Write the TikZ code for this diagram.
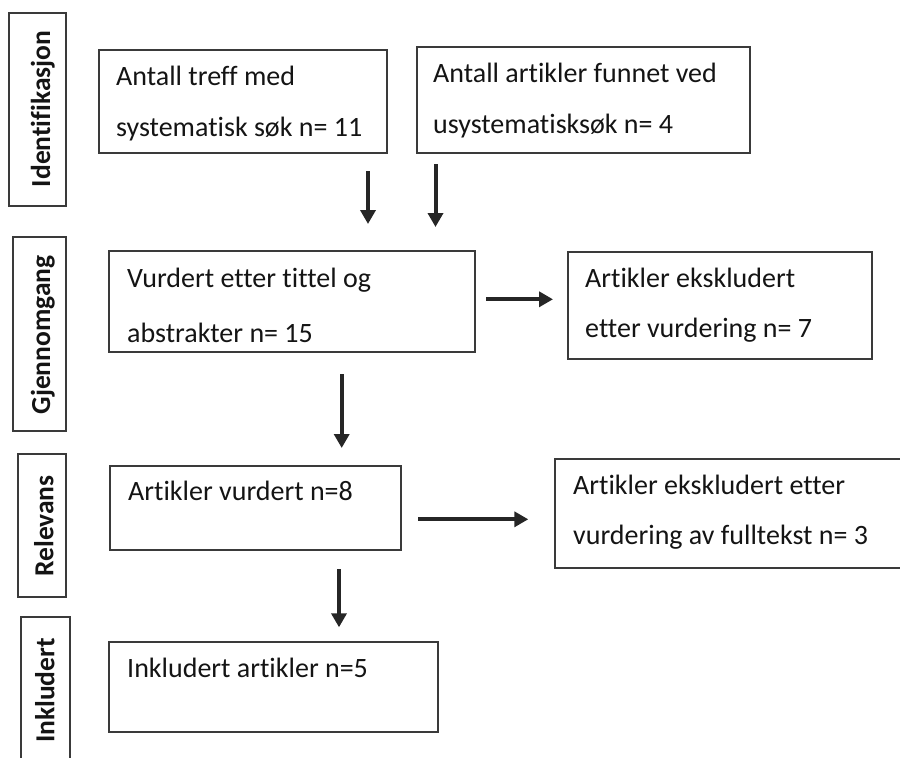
\documentclass[tikz,border=0pt]{standalone}
\usepackage{fontspec}
\setmainfont{Carlito}[Ligatures={NoCommon,NoContextual}]
\usetikzlibrary{arrows.meta}
\definecolor{boxc}{HTML}{3A3A3A}
\definecolor{txtc}{HTML}{141414}
\definecolor{arrc}{HTML}{262626}
\begin{document}
\begin{tikzpicture}[x=1pt,y=-1pt,
  box/.style={draw=boxc, line width=1.3pt, rectangle, inner sep=0pt, outer sep=0pt},
  txt/.style={font=\fontsize{28}{32}\selectfont, text=txtc, anchor=base west, inner sep=0pt},
  side/.style={font=\bfseries\fontsize{27.5}{32}\selectfont, text=txtc, rotate=90, anchor=base, inner sep=0pt},
  arr/.style={line width=4pt, draw=arrc, -{Triangle[width=15pt,length=14pt]}}]
\useasboundingbox (0,0) rectangle (900,758);
% side boxes
\node[box, minimum width=57pt, minimum height=193pt] (s1) at (37.5,109.5) {};
\node[box, minimum width=53pt, minimum height=194pt] (s2) at (39.5,334) {};
\node[box, minimum width=48pt, minimum height=143pt] (s3) at (42,525.5) {};
\node[box, minimum width=49pt, minimum height=153pt] (s4) at (45.5,693.5) {};
\node[side] (s1t) at (50,109) {Identifikasjon};
\node[side] (s2t) at (50,335) {Gjennomgang};
\node[side] (s3t) at (53.3,526) {Relevans};
\node[side] (s4t) at (54.3,690.5) {Inkludert};
% main boxes
\node[box, minimum width=288pt, minimum height=103pt] (b1) at (243,101.5) {};
\node[box, minimum width=333pt, minimum height=106pt] (b2) at (583.5,100) {};
\node[box, minimum width=366pt, minimum height=101pt] (b3) at (292,301.5) {};
\node[box, minimum width=304pt, minimum height=107pt] (b4) at (720,305.5) {};
\node[box, minimum width=291pt, minimum height=84pt] (b5) at (255.5,508) {};
\node[box, minimum width=355pt, minimum height=109pt] (b6) at (732.5,513.5) {};
\node[box, minimum width=329pt, minimum height=90pt] (b7) at (273.5,687) {};
% texts
\node[txt] (b1a) at (116,85) {Antall treff med};
\node[txt] (b1b) at (116,136) {systematisk søk n= 11};
\node[txt] (b2a) at (433,82) {Antall artikler funnet ved};
\node[txt] (b2b) at (433,133) {usystematisksøk n= 4};
\node[txt] (b3a) at (127,287) {Vurdert etter tittel og};
\node[txt] (b3b) at (127,342) {abstrakter n= 15};
\node[txt] (b4a) at (585,287) {Artikler ekskludert};
\node[txt] (b4b) at (585,337) {etter vurdering n= 7};
\node[txt] (b5a) at (128,500) {Artikler vurdert n=8};
\node[txt] (b6a) at (573,494) {Artikler ekskludert etter};
\node[txt] (b6b) at (573,544) {vurdering av fulltekst n= 3};
\node[txt] (b7a) at (127,677) {Inkludert artikler n=5};
% arrow end points
\coordinate (a1s) at (368,171);   \coordinate (a1e) at (368,224);
\coordinate (a2s) at (435.5,164); \coordinate (a2e) at (435.5,227);
\coordinate (a3s) at (341.7,374); \coordinate (a3e) at (341.7,448);
\coordinate (a4s) at (486,299.3); \coordinate (a4e) at (553,299.3);
\coordinate (a5s) at (418.3,519.3); \coordinate (a5e) at (528.3,519.3);
\coordinate (a6s) at (339,569.3); \coordinate (a6e) at (339,627.3);
\draw[arr] (a1s) -- (a1e);
\draw[arr] (a2s) -- (a2e);
\draw[arr] (a3s) -- (a3e);
\draw[arr] (a4s) -- (a4e);
\draw[arr] (a5s) -- (a5e);
\draw[arr] (a6s) -- (a6e);
\end{tikzpicture}
\end{document}
